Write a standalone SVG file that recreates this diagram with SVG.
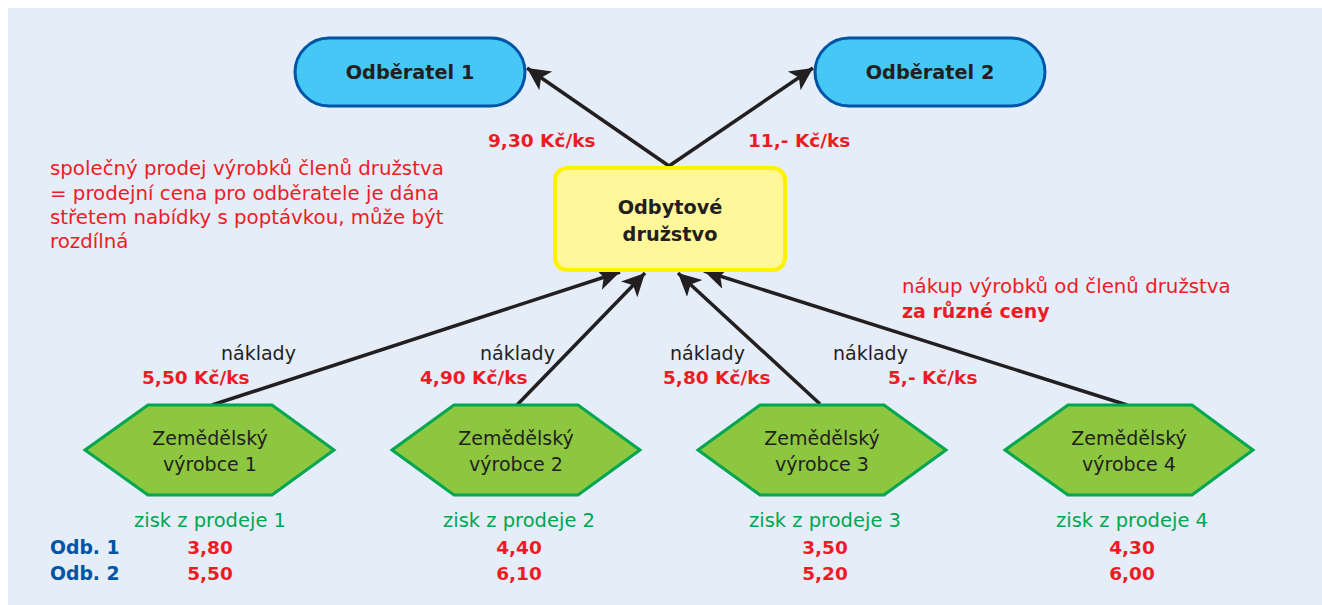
<svg xmlns="http://www.w3.org/2000/svg" width="1322" height="605" viewBox="0 0 1322 605">
  <defs>
    <marker id="arrow" viewBox="0 0 10 10" refX="10" refY="5" markerWidth="7.5" markerHeight="6.5" markerUnits="strokeWidth" orient="auto">
      <path d="M0,0 L10,5 L0,10 L2.5,5 z" fill="#231f20"/>
    </marker>
    <style>
      text { font-family: "DejaVu Sans", "Open Sans", "Liberation Sans", sans-serif; }
      .title { font-size: 19.3px; font-weight: bold; fill: #231f20; text-anchor: middle; }
      .price { font-size: 18.5px; font-weight: bold; fill: #ed1c24; }
      .note { font-size: 19.8px; fill: #ed1c24; }
      .cost { font-size: 19px; fill: #231f20; }
      .prod { font-size: 19px; fill: #231f20; text-anchor: middle; }
      .gain { font-size: 19.5px; fill: #00a651; text-anchor: middle; }
      .val { font-size: 18.5px; font-weight: bold; fill: #ed1c24; text-anchor: middle; }
      .odb { font-size: 18.8px; font-weight: bold; fill: #0054a6; }
      .customer { fill: #45c8f5; stroke: #0054a6; stroke-width: 3; }
      .coop { fill: #fff799; stroke: #fff200; stroke-width: 4; }
      .farm { fill: #8dc63f; stroke: #00a651; stroke-width: 3; }
      .link { stroke: #231f20; stroke-width: 3.5; fill: none; marker-end: url(#arrow); }
    </style>
  </defs>

  <!-- background panel -->
  <rect x="0" y="0" width="1322" height="605" fill="#ffffff"/>
  <rect x="8" y="8" width="1314" height="597" fill="#e5edf8"/>

  <!-- connectors -->
  <g id="connectors">
    <line class="link" x1="669" y1="166" x2="527" y2="68"/>
    <line class="link" x1="669" y1="166" x2="813" y2="68"/>
    <line class="link" x1="212" y1="405" x2="620" y2="272"/>
    <line class="link" x1="517" y1="405" x2="645" y2="273"/>
    <line class="link" x1="820" y1="404" x2="678" y2="273"/>
    <line class="link" x1="1127" y1="405" x2="704" y2="271"/>
  </g>

  <!-- customers -->
  <g id="odberatel1">
    <rect class="customer" x="295" y="38" width="230" height="68" rx="34"/>
    <text class="title" x="410" y="79">Odběratel 1</text>
  </g>
  <g id="odberatel2">
    <rect class="customer" x="815" y="38" width="230" height="68" rx="34"/>
    <text class="title" x="930" y="79">Odběratel 2</text>
  </g>

  <!-- sale prices -->
  <g id="prices">
    <text class="price" x="488" y="147">9,30 Kč/ks</text>
    <text class="price" x="748" y="147">11,- Kč/ks</text>
  </g>

  <!-- cooperative -->
  <g id="druzstvo">
    <rect class="coop" x="555" y="168" width="230" height="102" rx="12"/>
    <text class="title" x="670" y="214">Odbytové</text>
    <text class="title" x="670" y="241">družstvo</text>
  </g>

  <!-- explanatory notes -->
  <g id="note-sale">
    <text class="note" x="50" y="175">společný prodej výrobků členů družstva</text>
    <text class="note" x="50" y="200">= prodejní cena pro odběratele je dána</text>
    <text class="note" x="50" y="224">střetem nabídky s poptávkou, může být</text>
    <text class="note" x="50" y="248">rozdílná</text>
  </g>
  <g id="note-purchase">
    <text class="note" x="902" y="293">nákup výrobků od členů družstva</text>
    <text class="price" x="902" y="318" style="font-size:19px">za různé ceny</text>
  </g>

  <!-- production costs -->
  <g id="costs">
    <text class="cost" x="221" y="360">náklady</text>
    <text class="price" x="142" y="384">5,50 Kč/ks</text>
    <text class="cost" x="480" y="360">náklady</text>
    <text class="price" x="420" y="384">4,90 Kč/ks</text>
    <text class="cost" x="670" y="360">náklady</text>
    <text class="price" x="663" y="384">5,80 Kč/ks</text>
    <text class="cost" x="833" y="360">náklady</text>
    <text class="price" x="888" y="384">5,- Kč/ks</text>
  </g>

  <!-- producers -->
  <g id="vyrobce1">
    <polygon class="farm" points="85,450 148,405 272,405 334,450 272,495 148,495"/>
    <text class="prod" x="210" y="445">Zemědělský</text>
    <text class="prod" x="210" y="471">výrobce 1</text>
  </g>
  <g id="vyrobce2">
    <polygon class="farm" points="392,450 454,405 578,405 640,450 578,495 454,495"/>
    <text class="prod" x="516" y="445">Zemědělský</text>
    <text class="prod" x="516" y="471">výrobce 2</text>
  </g>
  <g id="vyrobce3">
    <polygon class="farm" points="698,450 760,405 884,405 946,450 884,495 760,495"/>
    <text class="prod" x="822" y="445">Zemědělský</text>
    <text class="prod" x="822" y="471">výrobce 3</text>
  </g>
  <g id="vyrobce4">
    <polygon class="farm" points="1005,450 1068,405 1192,405 1253,450 1192,495 1068,495"/>
    <text class="prod" x="1129" y="445">Zemědělský</text>
    <text class="prod" x="1129" y="471">výrobce 4</text>
  </g>

  <!-- profit table -->
  <g id="zisk">
    <text class="odb" x="50" y="554">Odb. 1</text>
    <text class="odb" x="50" y="580">Odb. 2</text>

    <text class="gain" x="210" y="527">zisk z prodeje 1</text>
    <text class="val" x="210" y="554">3,80</text>
    <text class="val" x="210" y="580">5,50</text>

    <text class="gain" x="519" y="527">zisk z prodeje 2</text>
    <text class="val" x="519" y="554">4,40</text>
    <text class="val" x="519" y="580">6,10</text>

    <text class="gain" x="825" y="527">zisk z prodeje 3</text>
    <text class="val" x="825" y="554">3,50</text>
    <text class="val" x="825" y="580">5,20</text>

    <text class="gain" x="1132" y="527">zisk z prodeje 4</text>
    <text class="val" x="1132" y="554">4,30</text>
    <text class="val" x="1132" y="580">6,00</text>
  </g>
</svg>
